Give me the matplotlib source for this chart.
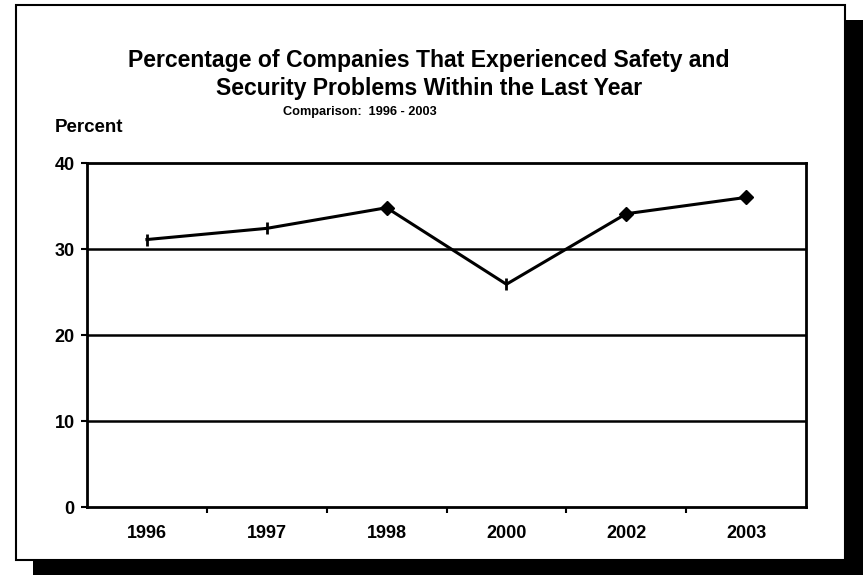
import matplotlib
matplotlib.use("Agg")
import matplotlib.pyplot as plt
from matplotlib.patches import Rectangle

# data
years = ["1996", "1997", "1998", "2000", "2002", "2003"]
percent = [31.1, 32.4, 34.8, 25.9, 34.1, 36.0]
markers = ["|", "|", "D", "|", "D", "D"]
y_ticks = [0, 10, 20, 30, 40]

plt.rcParams["font.family"] = ["Liberation Sans", "DejaVu Sans"]
plt.rcParams["font.weight"] = "bold"

fig = plt.figure(figsize=(8.63, 5.75), dpi=100)
fig.patch.set_facecolor("white")

# drop shadow and outer frame
fig.patches.append(Rectangle((33 / 863, 0), 830 / 863, 555 / 575,
                             transform=fig.transFigure, facecolor="black",
                             edgecolor="none", zorder=0))
fig.patches.append(Rectangle((16 / 863, 15 / 575), 829 / 863, 555 / 575,
                             transform=fig.transFigure, facecolor="white",
                             edgecolor="black", linewidth=1.5, zorder=1))

ax = fig.add_axes([87 / 863, 68 / 575, 719 / 863, 344 / 575])
ax.set_zorder(5)
ax.set_facecolor("white")
x = list(range(len(years)))
ax.plot(x, percent, color="black", linewidth=2.2, zorder=3)
for xi, yi, m in zip(x, percent, markers):
    ax.plot(xi, yi, marker=m, color="black", markersize=7 if m == "D" else 9,
            markeredgewidth=2 if m == "|" else 1, zorder=4)

ax.set_xlim(-0.5, len(years) - 0.5)
ax.set_ylim(0, 40)
ax.set_yticks(y_ticks)
ax.set_yticklabels([str(v) for v in y_ticks], fontsize=13, fontweight="bold")
ax.set_xticks(x)
ax.set_xticklabels(years, fontsize=13, fontweight="bold")
ax.set_xticks([i + 0.5 for i in x[:-1]], minor=True)
ax.tick_params(axis="x", which="major", length=0, pad=13)
ax.tick_params(axis="x", which="minor", length=4, width=1.5, direction="out")
ax.tick_params(axis="y", length=4, width=1.5, pad=5)
for v in y_ticks[1:-1]:
    ax.axhline(v, color="black", linewidth=1.8, zorder=2)
for s in ax.spines.values():
    s.set_linewidth(2)
    s.set_color("black")

fig.text(429 / 863, 1 - 61 / 575,
         "Percentage of Companies That Experienced Safety and",
         ha="center", va="center", fontsize=16.6, fontweight="bold", zorder=6)
fig.text(429 / 863, 1 - 88 / 575, "Security Problems Within the Last Year",
         ha="center", va="center", fontsize=16.6, fontweight="bold", zorder=6)
fig.text(360 / 863, 1 - 112 / 575, "Comparison:  1996 - 2003",
         ha="center", va="center", fontsize=9.2, fontweight="bold", zorder=6)
fig.text(55 / 863, 1 - 128 / 575, "Percent",
         ha="left", va="center", fontsize=13.5, fontweight="bold", zorder=6)

fig.savefig("out.png", dpi=100, facecolor="white")
